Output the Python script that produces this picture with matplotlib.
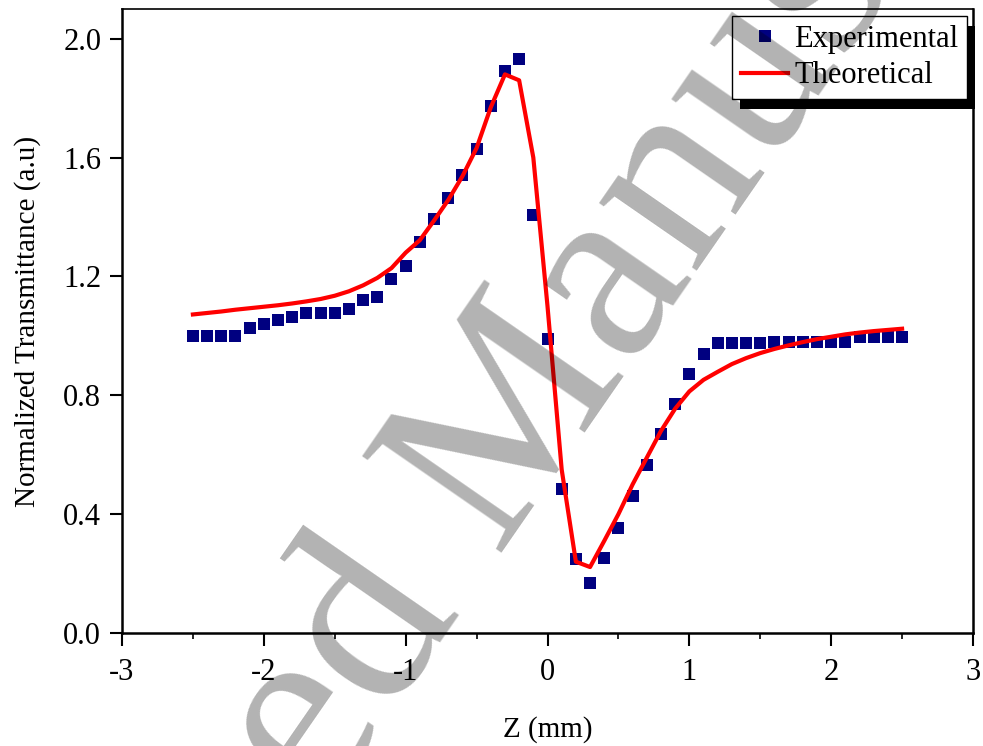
import matplotlib
matplotlib.use("Agg")
import matplotlib.pyplot as plt
from matplotlib.patches import Rectangle
from matplotlib.ticker import MultipleLocator

plt.rcParams['font.family'] = ['Liberation Serif', 'DejaVu Serif']

# Experimental data (z in mm)
z_exp = [-2.5, -2.4, -2.3, -2.2, -2.1, -2.0, -1.9, -1.8, -1.7, -1.6, -1.5, -1.4, -1.3,
         -1.2, -1.1, -1.0, -0.9, -0.8, -0.7, -0.6, -0.5, -0.4, -0.3, -0.2, -0.1, 0.0,
         0.1, 0.2, 0.3, 0.4, 0.5, 0.6, 0.7, 0.8, 0.9, 1.0, 1.1, 1.2, 1.3, 1.4, 1.5,
         1.6, 1.7, 1.8, 1.9, 2.0, 2.1, 2.2, 2.3, 2.4, 2.5]
t_exp = [1.00, 1.00, 1.00, 1.00, 1.026, 1.04, 1.052, 1.063, 1.078, 1.078, 1.078, 1.091, 1.12,
         1.132, 1.191, 1.234, 1.315, 1.394, 1.463, 1.543, 1.629, 1.775, 1.89, 1.932, 1.408, 0.99,
         0.484, 0.248, 0.169, 0.254, 0.355, 0.462, 0.567, 0.669, 0.772, 0.872, 0.940, 0.976, 0.976, 0.976, 0.976,
         0.978, 0.978, 0.978, 0.978, 0.978, 0.98, 0.996, 0.996, 0.996, 0.997]

# Theoretical fit
z_th = z_exp
t_th = [1.072, 1.077, 1.082, 1.088, 1.093, 1.098, 1.103, 1.109, 1.116, 1.124, 1.135, 1.150, 1.170,
        1.195, 1.228, 1.280, 1.322, 1.388, 1.457, 1.537, 1.632, 1.769, 1.880, 1.860, 1.600, 1.100,
        0.550, 0.240, 0.222, 0.310, 0.400, 0.500, 0.590, 0.680, 0.755, 0.813, 0.852, 0.879, 0.905, 0.925, 0.942,
        0.956, 0.968, 0.979, 0.989, 0.997, 1.005, 1.011, 1.016, 1.020, 1.024]

fig = plt.figure(figsize=(9.83, 7.46), dpi=100)
ax = fig.add_axes([122/983, 1-633/746, (973-122)/983, (633-9)/746])

ax.plot(z_exp, t_exp, linestyle='none', marker='s', markersize=8.8,
        color='#000080', markeredgewidth=0, label='Experimental', zorder=3)
ax.plot(z_th, t_th, color='red', linewidth=3.0, label='Theoretical', zorder=4)

ax.set_xlim(-3, 3)
ax.set_ylim(0, 2.1)
ax.set_xticks([-3, -2, -1, 0, 1, 2, 3])
ax.set_xticklabels(['-3', '-2', '-1', '0', '1', '2', '3'])
ax.xaxis.set_minor_locator(MultipleLocator(0.5))
ax.set_yticks([0.0, 0.4, 0.8, 1.2, 1.6, 2.0])
ax.set_yticklabels(['0.0', '0.4', '0.8', '1.2', '1.6', '2.0'])

ax.tick_params(axis='both', which='major', direction='out', length=9, width=1.5,
               labelsize=22, pad=6)
ax.tick_params(axis='x', which='major', pad=9)
ax.tick_params(axis='x', which='minor', direction='out', length=4, width=1.2)
for s in ['left', 'bottom', 'right']:
    ax.spines[s].set_linewidth(1.8)
ax.spines['top'].set_linewidth(1.2)

ax.set_xlabel('Z (mm)', fontsize=21, labelpad=21)
ax.set_ylabel('Normalized Transmittance (a.u)', fontsize=21, labelpad=16)

leg = ax.legend(loc='upper right', bbox_to_anchor=(967/983, 1-16/746),
                bbox_transform=fig.transFigure, fontsize=22, frameon=True,
                fancybox=False, edgecolor='black', framealpha=1,
                handlelength=1.55, handletextpad=0.2, borderpad=0.28,
                labelspacing=0.25, borderaxespad=0)
leg.get_frame().set_linewidth(1.0)
leg.set_zorder(10)

fig.canvas.draw()
bb = leg.get_window_extent()
shadow = Rectangle((bb.x0 + 8, bb.y0 - 10), bb.width, bb.height, transform=None,
                   facecolor='black', edgecolor='none', zorder=9)
ax.add_artist(shadow)
shadow.set_clip_on(False)

# watermark
fig.text(536/983, 1-502/746, 'Accepted Manuscript', fontsize=186, rotation=55.3,
         rotation_mode='anchor', ha='center', va='baseline', color='black',
         alpha=0.3, zorder=20)

fig.savefig('out.png', dpi=100)
